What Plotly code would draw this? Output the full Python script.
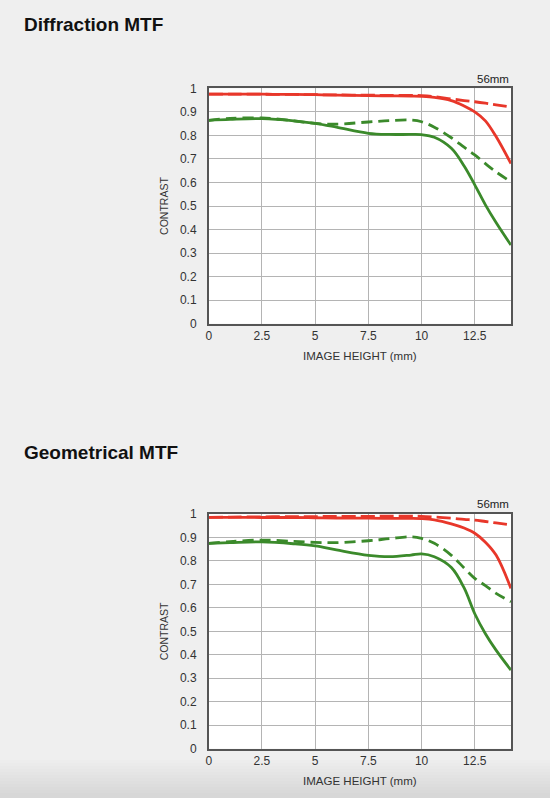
import plotly.graph_objects as go

image_height = [0, 1, 2.5, 4, 5, 6, 7.5, 8.5, 9.5, 10, 10.6, 11.4, 12, 12.5, 13, 13.5, 14.2]

# Diffraction MTF
diff_red_solid = [0.975, 0.975, 0.975, 0.974, 0.973, 0.971, 0.969, 0.968, 0.967, 0.966, 0.962,
                  0.948, 0.925, 0.900, 0.862, 0.795, 0.680]
diff_red_dash = [0.975, 0.975, 0.975, 0.974, 0.973, 0.972, 0.971, 0.970, 0.970, 0.969, 0.965,
                 0.955, 0.948, 0.943, 0.937, 0.930, 0.921]
diff_green_solid = [0.864, 0.868, 0.871, 0.862, 0.851, 0.835, 0.809, 0.804, 0.804, 0.803, 0.792,
                    0.745, 0.670, 0.590, 0.505, 0.430, 0.334]
diff_green_dash = [0.864, 0.872, 0.874, 0.862, 0.851, 0.848, 0.857, 0.863, 0.865, 0.858, 0.835,
                   0.790, 0.750, 0.717, 0.680, 0.645, 0.603]

# Geometrical MTF
geo_red_solid = [0.986, 0.986, 0.985, 0.985, 0.984, 0.983, 0.982, 0.981, 0.981, 0.980, 0.975,
                 0.958, 0.940, 0.918, 0.880, 0.825, 0.683]
geo_red_dash = [0.986, 0.987, 0.988, 0.989, 0.989, 0.990, 0.990, 0.991, 0.991, 0.990, 0.987,
                0.982, 0.977, 0.974, 0.968, 0.962, 0.953]
geo_green_solid = [0.875, 0.878, 0.881, 0.873, 0.864, 0.847, 0.824, 0.818, 0.825, 0.830, 0.818,
                   0.772, 0.685, 0.575, 0.490, 0.420, 0.335]
geo_green_dash = [0.875, 0.882, 0.889, 0.883, 0.879, 0.878, 0.886, 0.895, 0.903, 0.896, 0.875,
                  0.824, 0.770, 0.726, 0.695, 0.662, 0.626]

x_ticks = [0, 2.5, 5, 7.5, 10, 12.5]
y_ticks = [0, 0.1, 0.2, 0.3, 0.4, 0.5, 0.6, 0.7, 0.8, 0.9, 1]
focal = "56mm"

RED = "#e8372a"
GREEN = "#3b8a2b"
FONT = "Liberation Sans"

fig = go.Figure()

panels = [
    ("x", "y", [diff_red_solid, diff_red_dash, diff_green_solid, diff_green_dash]),
    ("x2", "y2", [geo_red_solid, geo_red_dash, geo_green_solid, geo_green_dash]),
]
styles = [(RED, "solid"), (RED, "14px,5px"), (GREEN, "solid"), (GREEN, "11px,6px")]

for xa, ya, series in panels:
    for vals, (col, dash) in zip(series, styles):
        fig.add_trace(go.Scatter(
            x=image_height, y=vals, xaxis=xa, yaxis=ya, mode="lines",
            line=dict(color=col, width=2.8, dash=dash, shape="spline", smoothing=1.0),
            showlegend=False, hoverinfo="skip", cliponaxis=True))

xax = dict(range=[0, 14.2], tickvals=x_ticks, ticktext=[f"{v:g}" for v in x_ticks],
           showgrid=True, gridcolor="#b4b4b4", gridwidth=1, zeroline=False,
           showline=True, linecolor="#555555", linewidth=1.5, mirror=True,
           ticks="", tickfont=dict(family=FONT, size=12, color="#333333"),
           title=dict(text="IMAGE HEIGHT (mm)", font=dict(family=FONT, size=11.5, color="#333333"),
                      standoff=10),
           automargin=False, fixedrange=True)
yax = dict(range=[0, 1], tickvals=y_ticks, ticktext=[f"{v:g}" for v in y_ticks],
           showgrid=True, gridcolor="#b4b4b4", gridwidth=1, zeroline=False,
           showline=True, linecolor="#555555", linewidth=1.5, mirror=True,
           ticks="outside", ticklen=8, tickcolor="rgba(0,0,0,0)",
           tickfont=dict(family=FONT, size=12, color="#333333"),
           title=dict(text="CONTRAST", font=dict(family=FONT, size=10.5, color="#333333"),
                      standoff=9),
           automargin=False, fixedrange=True)

fig.update_layout(
    width=550, height=798,
    margin=dict(l=0, r=0, t=0, b=0, autoexpand=False),
    paper_bgcolor="#efefef", plot_bgcolor="#ffffff",
    xaxis=dict(xax, domain=[0.3795, 0.929], anchor="y"),
    yaxis=dict(yax, domain=[0.5944, 0.8893], anchor="x"),
    xaxis2=dict(xax, domain=[0.3795, 0.929], anchor="y2"),
    yaxis2=dict(yax, domain=[0.0618, 0.3559], anchor="x2"),
)

for text, y in [("Diffraction MTF", 25), ("Geometrical MTF", 452)]:
    fig.add_annotation(text="<b>" + text + "</b>", xref="paper", yref="paper",
                       x=22 / 550, y=1 - y / 798, xanchor="left", yanchor="middle",
                       showarrow=False, font=dict(family=FONT, size=19, color="#111111"))
for y in [79, 504]:
    fig.add_annotation(text=focal, xref="paper", yref="paper",
                       x=511 / 550, y=1 - y / 798, xanchor="right", yanchor="middle",
                       showarrow=False, font=dict(family=FONT, size=11.5, color="#222222"))

# faint darkening towards the bottom edge
for i in range(12):
    fig.add_shape(type="rect", xref="paper", yref="paper", x0=0, x1=1,
                  y0=0, y1=(38 - i * 3) / 798, fillcolor="rgba(0,0,0,0.006)",
                  line_width=0, layer="below")

fig.write_html("out.html",
               config={"displayModeBar": False},
               post_script="document.body.style.margin='0';"
                           "document.body.style.background='#efefef';")
